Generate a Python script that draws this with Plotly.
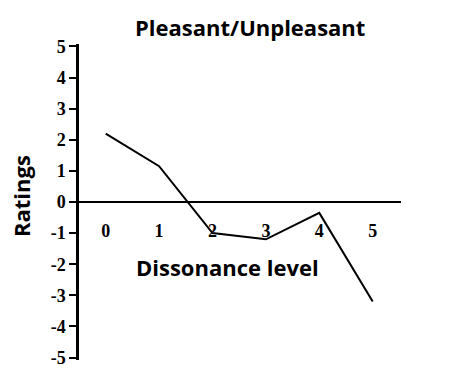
import plotly.graph_objects as go

levels = [0, 1, 2, 3, 4, 5]
ratings = [2.2, 1.15, -1.0, -1.2, -0.35, -3.2]
y_ticks = [-5, -4, -3, -2, -1, 0, 1, 2, 3, 4, 5]
y_tick_labels = ["-5", "-4", "-3", "-2", "-1", "0", "1", "2", "3", "4", "5"]
x_tick_labels = ["0", "1", "2", "3", "4", "5"]

W, H = 460, 380
L, R, T, B = 79, 59, 44, 18

fig = go.Figure()
fig.add_trace(go.Scatter(x=levels, y=ratings, mode="lines",
                         line=dict(color="black", width=2), showlegend=False,
                         hoverinfo="skip"))

tick_font = dict(family="Liberation Serif", size=18, color="black")
sans = "Open Sans"

fig.update_layout(
    width=W, height=H,
    margin=dict(l=L, r=R, t=T, b=B),
    paper_bgcolor="white", plot_bgcolor="white",
    xaxis=dict(range=[-0.5, 5.53], showgrid=False, zeroline=False,
               showline=False, tickvals=levels,
               ticktext=["<b>%s</b>" % t for t in x_tick_labels],
               ticks="", tickfont=tick_font, anchor="free", position=0.45,
               fixedrange=True),
    yaxis=dict(range=[-5.08, 5.08], showgrid=False, zeroline=True,
               zerolinecolor="black", zerolinewidth=2,
               showline=True, linecolor="black", linewidth=2.5,
               ticks="outside", ticklen=7, tickwidth=2, tickcolor="black",
               tickvals=y_ticks,
               ticktext=["<b>%s</b>" % t for t in y_tick_labels],
               tickfont=tick_font, fixedrange=True),
    annotations=[
        dict(text="<b>Pleasant/Unpleasant</b>", xref="paper", yref="paper",
             x=(250 - L) / (W - L - R), y=(H - 27 - B) / (H - T - B),
             xanchor="center", yanchor="middle", showarrow=False,
             font=dict(family=sans, size=22, color="black")),
        dict(text="<b>Dissonance level</b>", xref="paper", yref="paper",
             x=(227 - L) / (W - L - R), y=(H - 268 - B) / (H - T - B),
             xanchor="center", yanchor="middle", showarrow=False,
             font=dict(family=sans, size=22, color="black")),
        dict(text="<b>Ratings</b>", xref="paper", yref="paper",
             x=(21 - L) / (W - L - R), y=(H - 197 - B) / (H - T - B),
             xanchor="center", yanchor="middle", showarrow=False, textangle=-90,
             font=dict(family=sans, size=22, color="black")),
    ],
)

fig.write_html("out.html")
